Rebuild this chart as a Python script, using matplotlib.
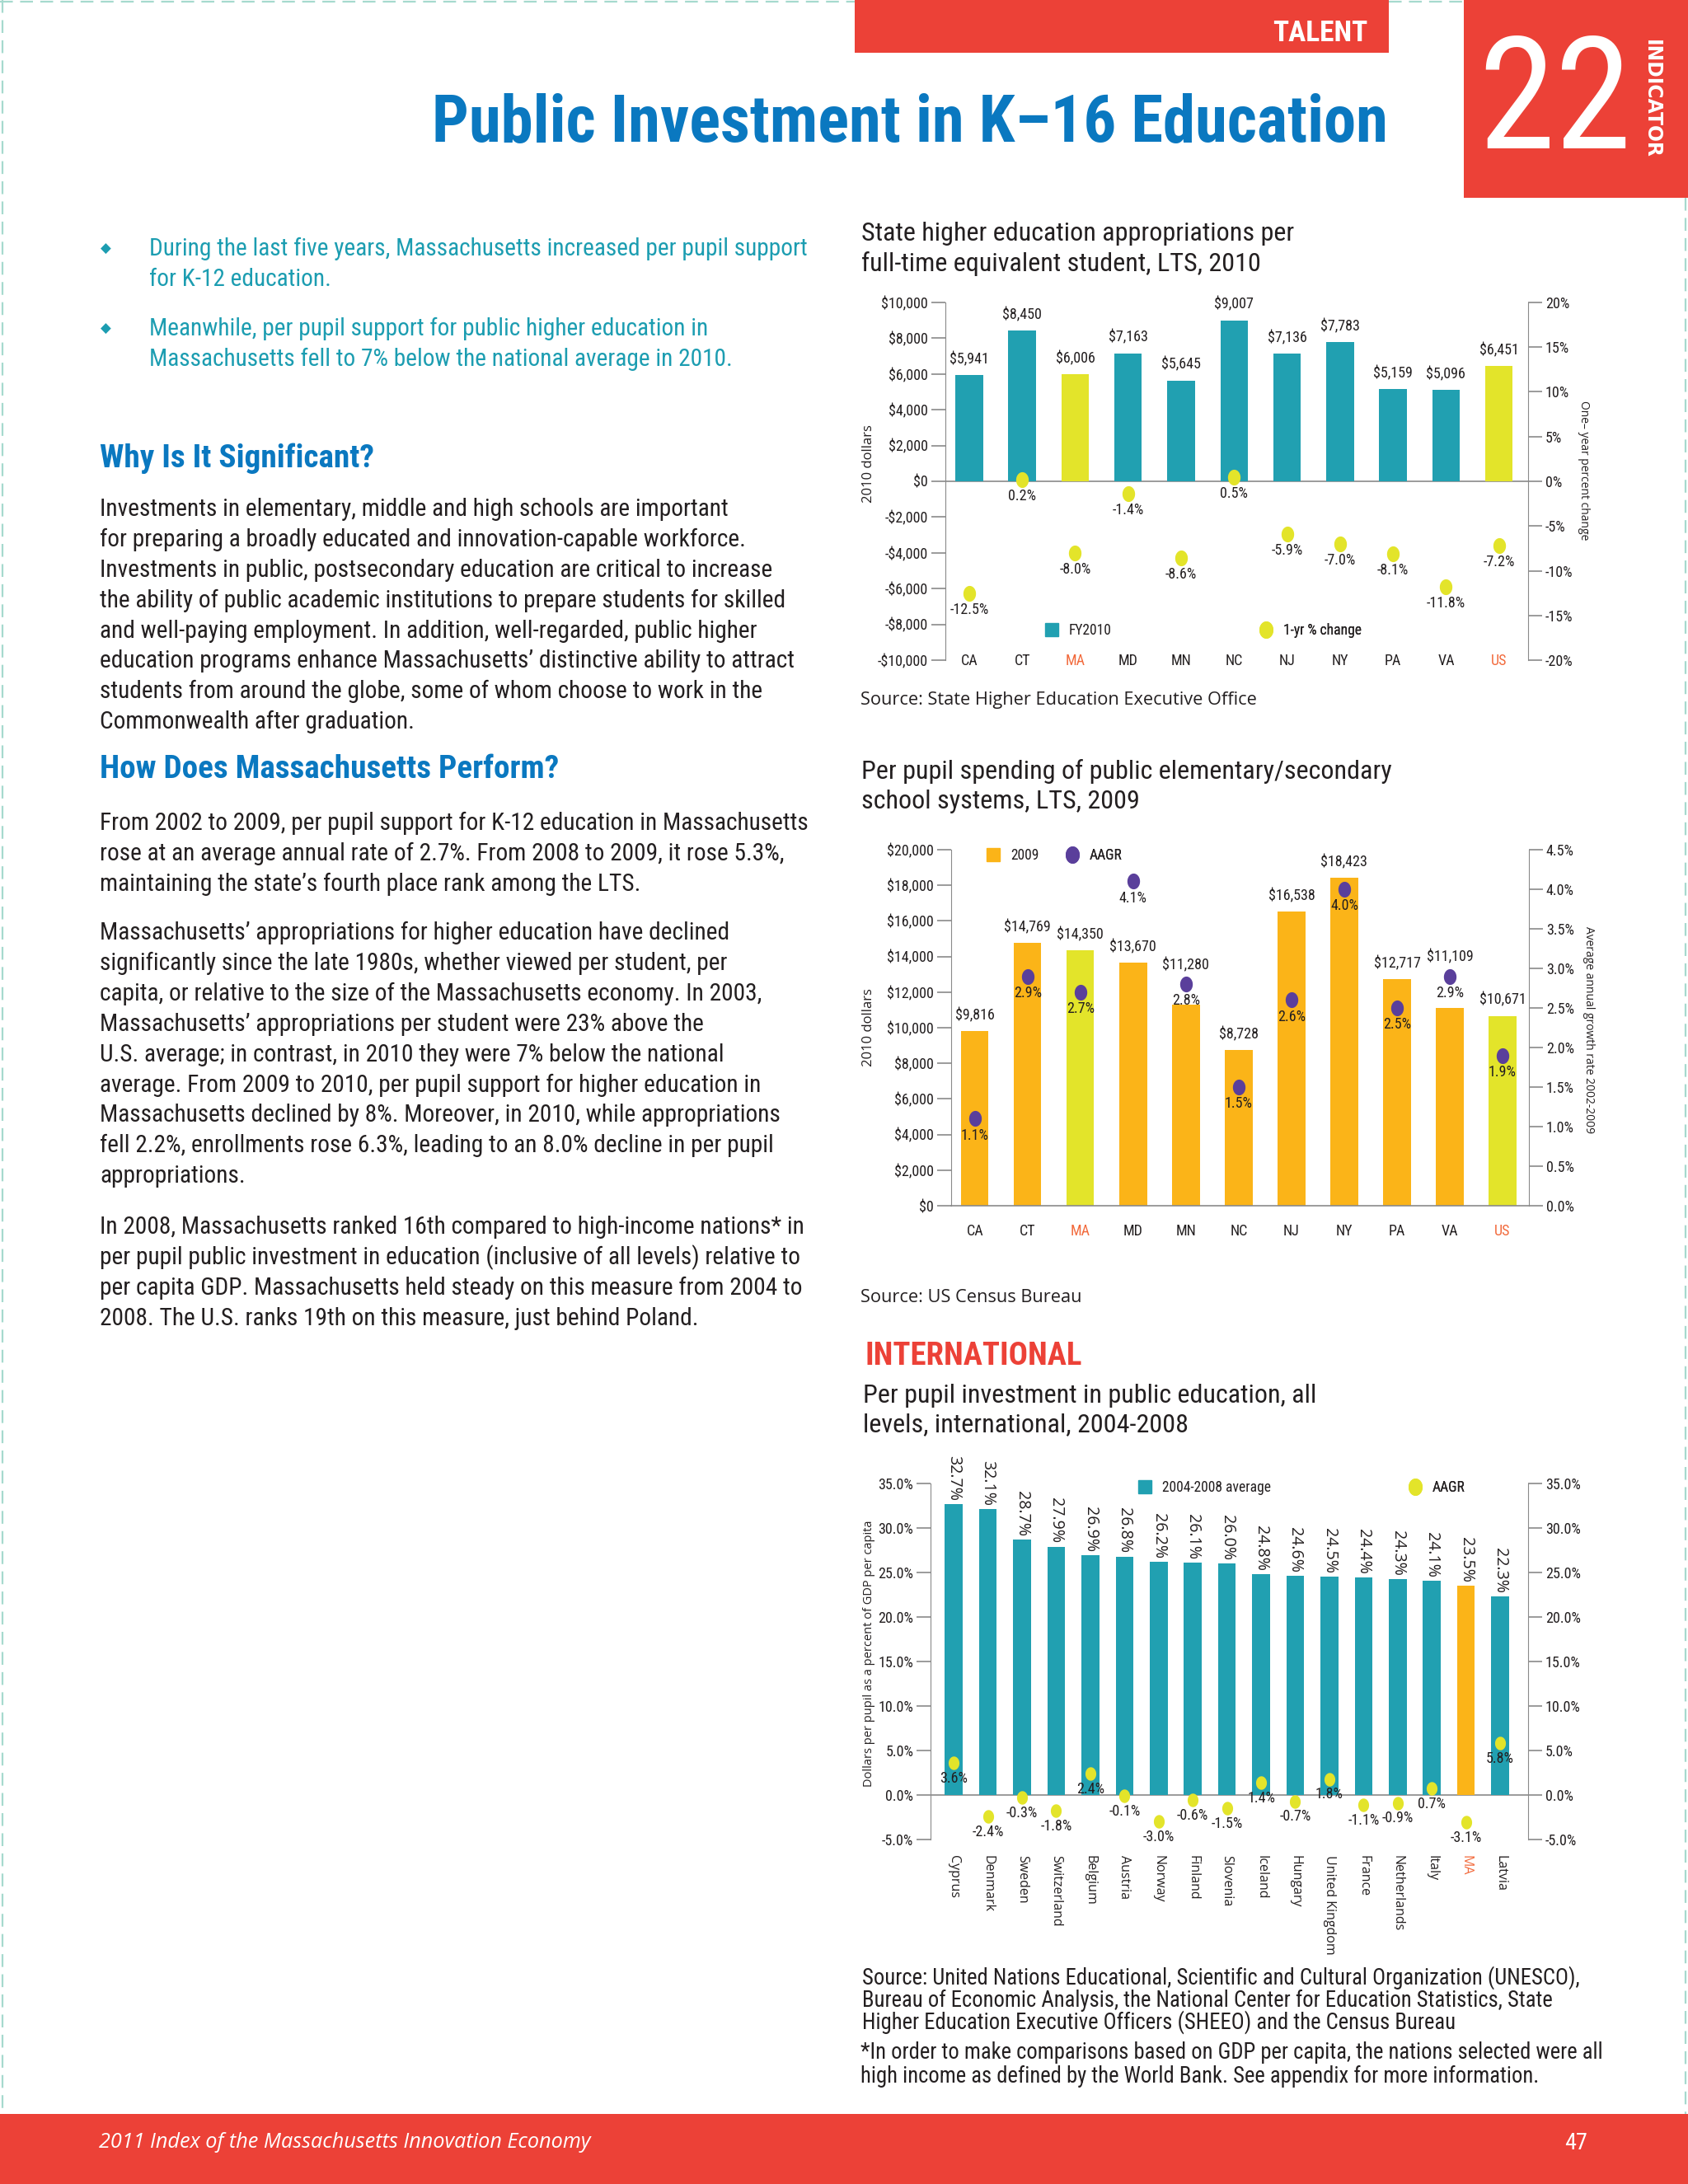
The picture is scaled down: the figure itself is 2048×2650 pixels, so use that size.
import matplotlib
matplotlib.use('Agg')
import matplotlib.pyplot as plt
from matplotlib import font_manager
from matplotlib.patches import Rectangle
from matplotlib.lines import Line2D
from matplotlib.ticker import FuncFormatter
import numpy as np

W, H = 2048, 2650

# --- chart 1: state higher education appropriations per FTE student, 2010
states = ['CA', 'CT', 'MA', 'MD', 'MN', 'NC', 'NJ', 'NY', 'PA', 'VA', 'US']
approp_2010 = [5941, 8450, 6006, 7163, 5645, 9007, 7136, 7783, 5159, 5096, 6451]
approp_change = [-12.5, 0.2, -8.0, -1.4, -8.6, 0.5, -5.9, -7.0, -8.1, -11.8, -7.2]

# --- chart 2: per pupil spending, elementary/secondary, 2009
k12_2009 = [9816, 14769, 14350, 13670, 11280, 8728, 16538, 18423, 12717, 11109, 10671]
k12_aagr = [1.1, 2.9, 2.7, 4.1, 2.8, 1.5, 2.6, 4.0, 2.5, 2.9, 1.9]

# --- chart 3: international, 2004-2008
nations = ['Cyprus', 'Denmark', 'Sweden', 'Switzerland', 'Belgium', 'Austria', 'Norway',
           'Finland', 'Slovenia', 'Iceland', 'Hungary', 'United Kingdom', 'France',
           'Netherlands', 'Italy', 'MA', 'Latvia']
gdp_share = [32.7, 32.1, 28.7, 27.9, 26.9, 26.8, 26.2, 26.1, 26.0, 24.8, 24.6, 24.5,
             24.4, 24.3, 24.1, 23.5, 22.3]
gdp_aagr = [3.6, -2.4, -0.3, -1.8, 2.4, -0.1, -3.0, -0.6, -1.5, 1.4, -0.7, 1.8,
            -1.1, -0.9, 0.7, -3.1, 5.8]

highlight = ['MA', 'US']

TEAL = '#21a0b1'
YELLOW = '#e3e42a'
ORANGE = '#fbb418'
PURPLE = '#5a3f9b'
RED = '#ec4137'
BLUE = '#0a78c0'
BTEAL = '#1c9db1'
TXT = '#231f20'
GRAY = '#8a8a8a'
HIL = '#f26a3c'

# the print uses a condensed face; take the narrowest one that is installed
names = {f.name for f in font_manager.fontManager.ttflist}
cands = ['Liberation Sans Narrow', 'Roboto Condensed', 'DejaVu Sans Condensed',
         'Open Sans Condensed', 'Noto Sans Condensed', 'Roboto', 'Liberation Sans']
NARROW = [next(c for c in cands if c in names), 'DejaVu Sans']
WIDE = ['Open Sans', 'DejaVu Sans']

plt.rcParams['font.family'] = NARROW
plt.rcParams['text.color'] = TXT

fig = plt.figure(figsize=(W / 100, H / 100), dpi=100)
fig.patch.set_facecolor('white')
rend = fig.canvas.get_renderer()


def fit(s, width, family=None, **kw):
    # font size that makes s as wide (px) as in the print
    t = fig.text(0, 0, s, fontsize=20, family=family or NARROW, **kw)
    w = t.get_window_extent(renderer=rend).width
    t.remove()
    return 20 * width / w


S_BODY = fit('the ability of public academic institutions to prepare students for skilled', 829)
S_HEAD = fit('Why Is It Significant?', 332, fontweight='bold')
S_TITLE = fit('Public Investment in K\u201316 Education', 1159, fontweight='bold')
S_CT = fit('Per pupil spending of public elementary/secondary', 643)
S_TICK = fit('$10,000', 57)
S_VAL = fit('$8,450', 48)
S_LEG = fit('1-yr % change', 95)
S_SRC3 = fit('Source: United Nations Educational, Scientific and Cultural Organization (UNESCO),', 866)
S_SRC = fit('Source: US Census Bureau', 268, WIDE)
S_ROT = fit('32.7%', 55, WIDE)


def fx(x):
    return x / W


def fy(y):
    return 1 - y / H


def rect(x0, y0, x1, y1):
    return [fx(x0), fy(y1), (x1 - x0) / W, (y1 - y0) / H]


def put(x, y, s, **kw):
    kw.setdefault('va', 'center')
    return fig.text(fx(x), fy(y), s, **kw)


def box(x0, y0, x1, y1, color):
    fig.add_artist(Rectangle((fx(x0), fy(y1)), (x1 - x0) / W, (y1 - y0) / H,
                             transform=fig.transFigure, color=color, lw=0))


def dash(x0, y0, x1, y1):
    fig.add_artist(Line2D([fx(x0), fx(x1)], [fy(y0), fy(y1)], transform=fig.transFigure,
                          color='#a6dace', lw=1.6, ls=(0, (7, 4))))


# oval dot like the print version
t = np.linspace(0, 2 * np.pi, 60)
OVAL = np.column_stack([0.8 * np.cos(t), np.sin(t)])


def dollars(v, pos=None):
    return ('-$' if v < 0 else '$') + '{:,.0f}'.format(abs(v))


def style(ax, ax2):
    for a in (ax, ax2):
        a.patch.set_visible(False)
        a.spines['top'].set_visible(False)
        a.spines['bottom'].set_visible(False)
        a.tick_params(axis='y', length=12, width=1.2, color=GRAY, labelsize=S_TICK,
                      labelcolor=TXT, pad=3)
    ax.spines['right'].set_visible(False)
    ax2.spines['left'].set_visible(False)
    ax.spines['left'].set_color(GRAY)
    ax2.spines['right'].set_color(GRAY)


def key(ax, handle, label, x, y):
    leg = ax.legend(handles=[handle], labels=[label], loc='center left',
                    bbox_to_anchor=(fx(x), fy(y)), bbox_transform=fig.transFigure,
                    frameon=False, handlelength=1.0, handletextpad=0.7, borderpad=0,
                    borderaxespad=0, prop={'family': NARROW, 'size': S_LEG})
    ax.add_artist(leg)


# ---------------- page furniture ----------------
dash(3, 0, 3, 2565)
dash(0, 2, 1037, 2)
dash(1685, 2, 1776, 2)
dash(2045, 240, 2045, 2565)

box(1037, 0, 1685, 64, RED)
put(1659, 40, 'TALENT', ha='right', color='white', fontweight='bold',
    fontsize=fit('TALENT', 116, fontweight='bold'))
box(1776, 0, 2048, 240, RED)
put(1886, 128, '22', ha='center', color='white', fontsize=136)
put(2004, 120, 'INDICATOR', ha='center', rotation=-90, color='white', fontweight='bold',
    family=['DejaVu Sans'], fontsize=fit('INDICATOR', 144, ['DejaVu Sans'], fontweight='bold'))

put(1684, 172, 'Public Investment in K\u201316 Education', ha='right', va='baseline',
    color=BLUE, fontsize=S_TITLE, fontweight='bold')

box(0, 2565, 2048, 2650, RED)
put(120, 2600, '2011 Index of the Massachusetts Innovation Economy', color='white',
    style='italic', family=WIDE,
    fontsize=fit('2011 Index of the Massachusetts Innovation Economy', 597, WIDE, style='italic'))
put(1912, 2600, '47', ha='center', color='white', fontsize=fit('47', 28))

# ---------------- left column text ----------------
bullets = [['During the last five years, Massachusetts increased per pupil support',
            'for K-12 education.'],
           ['Meanwhile, per pupil support for public higher education in',
            'Massachusetts fell to 7% below the national average in 2010.']]
for b, y0 in zip(bullets, [302, 399]):
    put(128, y0, '\u25c6', ha='center', color=BTEAL, fontsize=12, family=['DejaVu Sans'])
    for j, line in enumerate(b):
        put(181, y0 + j * 36.8, line, color=BTEAL, fontsize=S_BODY)

put(121, 556, 'Why Is It Significant?', color=BLUE, fontsize=S_HEAD, fontweight='bold')
put(121, 934, 'How Does Massachusetts Perform?', color=BLUE, fontsize=S_HEAD, fontweight='bold')

paras = [
    (618, ['Investments in elementary, middle and high schools are important',
           'for preparing a broadly educated and innovation-capable workforce.',
           'Investments in public, postsecondary education are critical to increase',
           'the ability of public academic institutions to prepare students for skilled',
           'and well-paying employment. In addition, well-regarded, public higher',
           'education programs enhance Massachusetts\u2019 distinctive ability to attract',
           'students from around the globe, some of whom choose to work in the',
           'Commonwealth after graduation.']),
    (999, ['From 2002 to 2009, per pupil support for K-12 education in Massachusetts',
           'rose at an average annual rate of 2.7%. From 2008 to 2009, it rose 5.3%,',
           'maintaining the state\u2019s fourth place rank among the LTS.']),
    (1132, ['Massachusetts\u2019 appropriations for higher education have declined',
            'significantly since the late 1980s, whether viewed per student, per',
            'capita, or relative to the size of the Massachusetts economy. In 2003,',
            'Massachusetts\u2019 appropriations per student were 23% above the',
            'U.S. average; in contrast, in 2010 they were 7% below the national',
            'average. From 2009 to 2010, per pupil support for higher education in',
            'Massachusetts declined by 8%. Moreover, in 2010, while appropriations',
            'fell 2.2%, enrollments rose 6.3%, leading to an 8.0% decline in per pupil',
            'appropriations.']),
    (1489, ['In 2008, Massachusetts ranked 16th compared to high-income nations* in',
            'per pupil public investment in education (inclusive of all levels) relative to',
            'per capita GDP. Massachusetts held steady on this measure from 2004 to',
            '2008. The U.S. ranks 19th on this measure, just behind Poland.']),
]
for y0, lines in paras:
    for j, line in enumerate(lines):
        put(121, y0 + j * 36.9, line, color=TXT, fontsize=S_BODY)

# ---------------- chart 1 ----------------
put(1045, 284, 'State higher education appropriations per', fontsize=S_CT)
put(1045, 320, 'full-time equivalent student, LTS, 2010', fontsize=S_CT)

x = np.arange(len(states))
ax1 = fig.add_axes(rect(1147, 367, 1854, 801))
ax1b = ax1.twinx()
cols = [YELLOW if s in highlight else TEAL for s in states]
ax1.bar(x, approp_2010, width=0.52, color=cols, zorder=2)
ax1.axhline(0, color=GRAY, lw=1.2, zorder=1)
ax1.set_xlim(-0.45, 10.55)
ax1.set_ylim(-10000, 10000)
ax1.set_yticks(np.arange(-10000, 10001, 2000))
ax1.yaxis.set_major_formatter(FuncFormatter(dollars))
ax1.set_xticks(x, states)
ax1.tick_params(axis='x', length=0, pad=-6, labelsize=S_TICK)
for lab, s in zip(ax1.get_xticklabels(), states):
    lab.set_color(HIL if s in highlight else TXT)
for i, v in enumerate(approp_2010):
    ax1.annotate(dollars(v), xy=(i, v), xytext=(0, 7), textcoords='offset points',
                 ha='center', va='bottom', fontsize=S_VAL)

ax1b.scatter(x, approp_change, s=190, marker=OVAL, color=YELLOW, zorder=3, lw=0)
ax1b.set_ylim(-20, 20)
ax1b.set_yticks(np.arange(-20, 21, 5))
ax1b.yaxis.set_major_formatter(FuncFormatter(lambda v, p: '{:.0f}%'.format(v)))
for i, v in enumerate(approp_change):
    ax1b.annotate('{:.1f}%'.format(v), xy=(i, v), xytext=(0, -8), textcoords='offset points',
                  ha='center', va='top', fontsize=S_VAL)
style(ax1, ax1b)

key(ax1b, Line2D([], [], marker='s', ls='', color=TEAL, markersize=12), 'FY2010', 1267, 765)
key(ax1b, Line2D([], [], marker=OVAL, ls='', color=YELLOW, markersize=14), '1-yr % change',
    1527, 765)

put(1054, 563, '2010 dollars', ha='center', rotation=90, fontsize=12, family=WIDE)
put(1921, 571, 'One\u2013 year percent change', ha='center', rotation=-90, fontsize=10,
    family=WIDE)
put(1044, 850, 'Source: State Higher Education Executive Office', fontsize=S_SRC, family=WIDE)

# ---------------- chart 2 ----------------
put(1045, 936, 'Per pupil spending of public elementary/secondary', fontsize=S_CT)
put(1045, 973, 'school systems, LTS, 2009', fontsize=S_CT)

ax2 = fig.add_axes(rect(1154, 1031, 1855, 1463))
ax2b = ax2.twinx()
cols = [YELLOW if s in highlight else ORANGE for s in states]
ax2.bar(x, k12_2009, width=0.52, color=cols, zorder=2)
ax2.set_xlim(-0.45, 10.5)
ax2.set_ylim(0, 20000)
ax2.set_yticks(np.arange(0, 20001, 2000))
ax2.yaxis.set_major_formatter(FuncFormatter(dollars))
ax2.set_xticks(x, states)
ax2.tick_params(axis='x', length=0, pad=16, labelsize=S_TICK)
for lab, s in zip(ax2.get_xticklabels(), states):
    lab.set_color(HIL if s in highlight else TXT)

ax2b.scatter(x, k12_aagr, s=190, marker=OVAL, color=PURPLE, zorder=3, lw=0)
ax2b.set_ylim(0, 4.5)
ax2b.set_yticks(np.arange(0, 4.51, 0.5))
ax2b.yaxis.set_major_formatter(FuncFormatter(lambda v, p: '{:.1f}%'.format(v)))
for i, (v, a) in enumerate(zip(k12_2009, k12_aagr)):
    ax2b.annotate('{:.1f}%'.format(a), xy=(i, a), xytext=(0, -8), textcoords='offset points',
                  ha='center', va='top', fontsize=S_VAL)
    # the print lifts a value label over the dot when the dot sits on the bar top
    dot = a / 4.5 * 20000
    if v - 300 < dot < v + 3000:
        ax2b.annotate(dollars(v), xy=(i, a), xytext=(0, 10), textcoords='offset points',
                      ha='center', va='bottom', fontsize=S_VAL)
    else:
        ax2.annotate(dollars(v), xy=(i, v), xytext=(0, 7), textcoords='offset points',
                     ha='center', va='bottom', fontsize=S_VAL)
style(ax2, ax2b)
ax2.spines['bottom'].set_visible(True)
ax2.spines['bottom'].set_color(GRAY)
ax2.spines['bottom'].set_linewidth(1.2)

key(ax2b, Line2D([], [], marker='s', ls='', color=ORANGE, markersize=12), '2009', 1196, 1038)
key(ax2b, Line2D([], [], marker=OVAL, ls='', color=PURPLE, markersize=14), 'AAGR', 1292, 1038)

put(1054, 1247, '2010 dollars', ha='center', rotation=90, fontsize=12, family=WIDE)
put(1928, 1250, 'Average annual growth rate 2002-2009', ha='center', rotation=-90,
    fontsize=10, family=WIDE)
put(1044, 1575, 'Source: US Census Bureau', fontsize=S_SRC, family=WIDE)

# ---------------- chart 3 ----------------
put(1050, 1646, 'INTERNATIONAL', color=RED, fontweight='bold',
    fontsize=fit('INTERNATIONAL', 264, fontweight='bold'))
put(1047, 1693, 'Per pupil investment in public education, all', fontsize=S_CT)
put(1047, 1729, 'levels, international, 2004-2008', fontsize=S_CT)

xn = np.arange(len(nations))
ax3 = fig.add_axes(rect(1129, 1800, 1854, 2232))
ax3b = ax3.twinx()
cols = [ORANGE if n in highlight else TEAL for n in nations]
ax3.bar(xn, gdp_share, width=0.52, color=cols, zorder=2)
ax3.axhline(0, color=GRAY, lw=1.2, zorder=1)
ax3.set_xlim(-0.68, 16.82)
ax3.set_ylim(-5, 35)
ax3.set_yticks(np.arange(-5, 35.1, 5))
pct1 = FuncFormatter(lambda v, p: '{:.1f}%'.format(v))
ax3.yaxis.set_major_formatter(pct1)
ax3.set_xticks(xn, nations, rotation=-90, family=WIDE, fontsize=11.5)
ax3.tick_params(axis='x', length=0, pad=14)
for lab, n in zip(ax3.get_xticklabels(), nations):
    lab.set_va('top')
    lab.set_color(HIL if n in highlight else TXT)
for i, v in enumerate(gdp_share):
    ax3.annotate('{:.1f}%'.format(v), xy=(i, v), xytext=(0, 3), textcoords='offset points',
                 ha='center', va='bottom', rotation=-90, fontsize=S_ROT, family=WIDE)

ax3b.scatter(xn, gdp_aagr, s=140, marker=OVAL, color=YELLOW, zorder=3, lw=0)
ax3b.set_ylim(-5, 35)
ax3b.set_yticks(np.arange(-5, 35.1, 5))
ax3b.yaxis.set_major_formatter(pct1)
for i, v in enumerate(gdp_aagr):
    ax3b.annotate('{:.1f}%'.format(v), xy=(i, v), xytext=(0, -7), textcoords='offset points',
                  ha='center', va='top', fontsize=S_VAL)
style(ax3, ax3b)

key(ax3b, Line2D([], [], marker='s', ls='', color=TEAL, markersize=12), '2004-2008 average',
    1380, 1805)
key(ax3b, Line2D([], [], marker=OVAL, ls='', color=YELLOW, markersize=14), 'AAGR', 1708, 1805)

put(1054, 2006, 'Dollars per pupil as a percent of GDP per capita', ha='center', rotation=90,
    fontsize=10.5, family=WIDE)

src = ['Source: United Nations Educational, Scientific and Cultural Organization (UNESCO),',
       'Bureau of Economic Analysis, the National Center for Education Statistics, State',
       'Higher Education Executive Officers (SHEEO) and the Census Bureau']
for j, line in enumerate(src):
    put(1046, 2400 + j * 27, line, fontsize=S_SRC3)
note = ['*In order to make comparisons based on GDP per capita, the nations selected were all',
        'high income as defined by the World Bank. See appendix for more information.']
for j, line in enumerate(note):
    put(1044, 2491 + j * 28, line, fontsize=S_SRC3)

fig.savefig('out.png', dpi=100)
